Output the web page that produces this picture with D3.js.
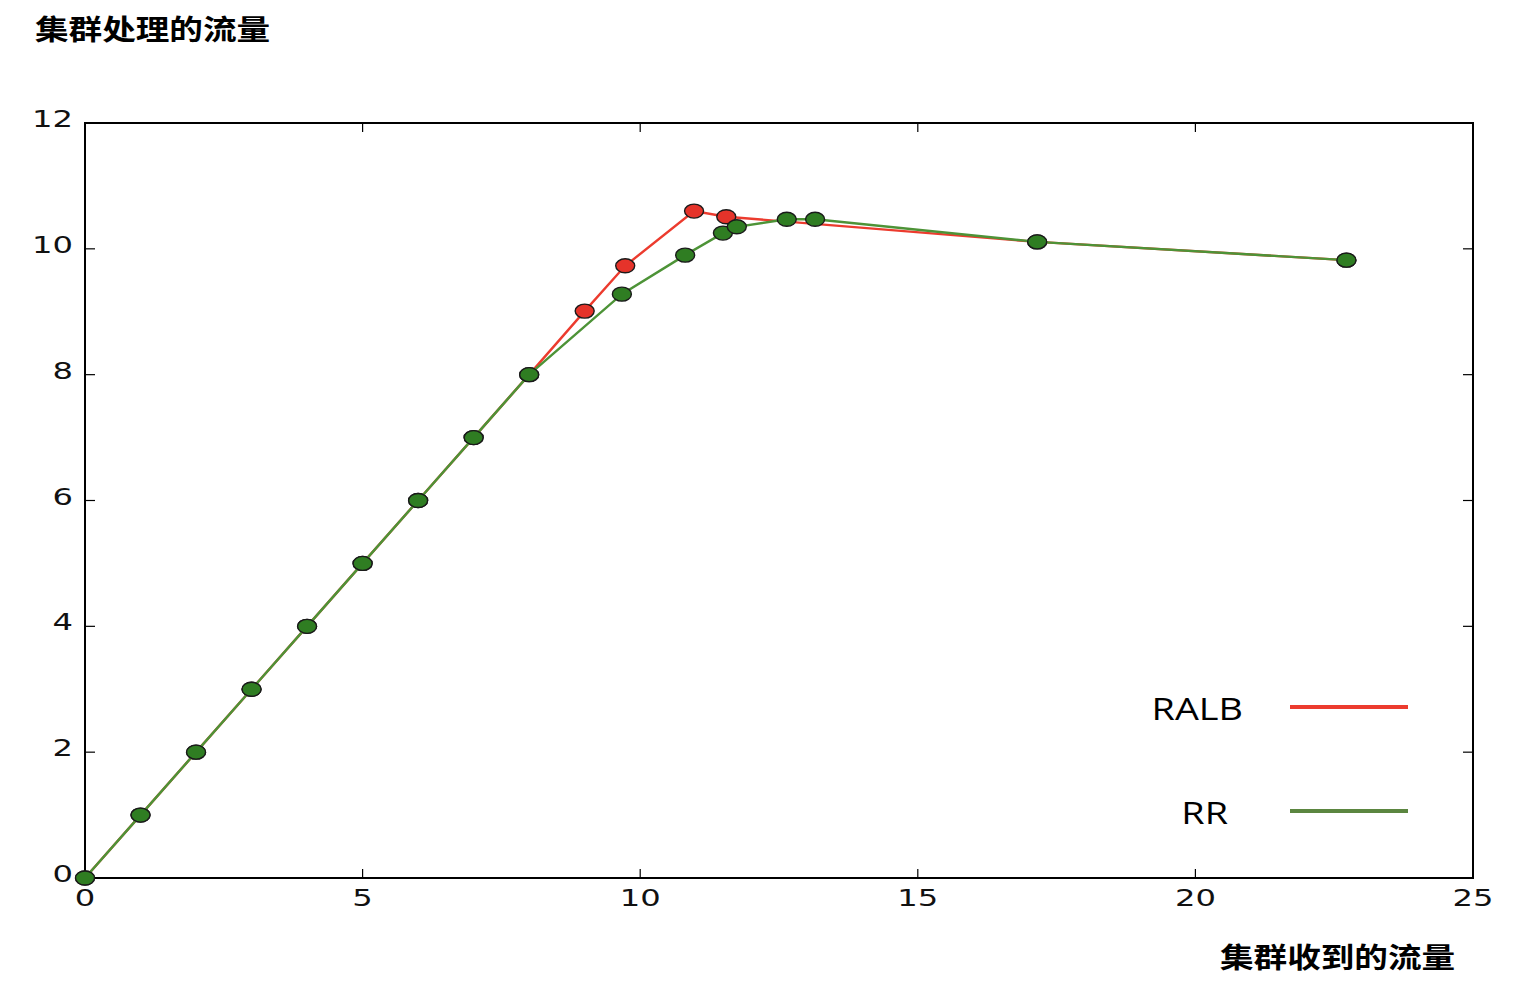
<!DOCTYPE html>
<html><head><meta charset="utf-8">
<script src="https://cdn.jsdelivr.net/npm/d3@7"></script>
<style>body{margin:0;background:#fff}svg{display:block}</style>
</head><body>
<svg id="c" width="1536" height="1006"></svg>
<script>
const ralbX = [0,1,2,3,4,5,6,7,8,9.0,9.73,10.97,11.55,17.15,22.72];
const ralbY = [0,1,2,3,4,5,6,7,8,9.01,9.73,10.60,10.51,10.11,9.82];
const rrX = [0,1,2,3,4,5,6,7,8,9.67,10.81,11.49,11.74,12.64,13.15,17.15,22.72];
const rrY = [0,1,2,3,4,5,6,7,8,9.28,9.90,10.25,10.35,10.47,10.47,10.11,9.82];
const xTicks = [0,5,10,15,20,25];
const yTicks = [0,2,4,6,8,10,12];
const seriesNames = ["RALB","RR"];
const yTitle = "集群处理的流量";
const xTitle = "集群收到的流量";

const svg = d3.select("#c");
const L=85,R=1473,T=123,B=878;
const x = d3.scaleLinear().domain([0,25]).range([L,R]);
const y = d3.scaleLinear().domain([0,12]).range([B,T]);
const SX=1.4;
const numFont="'DejaVu Sans', sans-serif";

const g = svg.append("g");
xTicks.forEach(t=>{
  g.append("line").attr("x1",x(t)).attr("x2",x(t)).attr("y1",B).attr("y2",B-9).attr("stroke","#000").attr("stroke-width",1.2);
  g.append("line").attr("x1",x(t)).attr("x2",x(t)).attr("y1",T).attr("y2",T+9).attr("stroke","#000").attr("stroke-width",1.2);
  g.append("text").attr("transform",`translate(${x(t)},${B+28}) scale(${SX},1)`)
   .attr("text-anchor","middle").attr("font-family",numFont).attr("font-size",23).attr("fill","#111").text(t);
});
yTicks.forEach(t=>{
  g.append("line").attr("y1",y(t)).attr("y2",y(t)).attr("x1",L).attr("x2",L+10).attr("stroke","#000").attr("stroke-width",1.2);
  g.append("line").attr("y1",y(t)).attr("y2",y(t)).attr("x1",R).attr("x2",R-10).attr("stroke","#000").attr("stroke-width",1.2);
  g.append("text").attr("transform",`translate(73,${y(t)+4}) scale(${SX},1)`)
   .attr("text-anchor","end").attr("font-family",numFont).attr("font-size",23).attr("fill","#111").text(t);
});
g.append("rect").attr("x",L).attr("y",T).attr("width",R-L).attr("height",B-T)
 .attr("fill","none").attr("stroke","#000").attr("stroke-width",2);

const line = d3.line().x(d=>x(d[0])).y(d=>y(d[1]));
const ralb = ralbX.map((v,i)=>[v,ralbY[i]]);
const rr = rrX.map((v,i)=>[v,rrY[i]]);

function draw(data, lc, mc){
  svg.append("path").datum(data).attr("d",line).attr("fill","none").attr("stroke",lc).attr("stroke-width",2.4);
  svg.append("g").selectAll("ellipse").data(data).join("ellipse")
    .attr("cx",d=>x(d[0])).attr("cy",d=>y(d[1])).attr("rx",9.5).attr("ry",7)
    .attr("fill",mc).attr("stroke","#1a1a1a").attr("stroke-width",1.4);
}
draw(ralb,"#ec3b2e","#e5332a");
draw(rr,"#4d9337","#2f7d22");

const legFont="'Open Sans', 'Noto Sans', sans-serif";
[["#ec3b2e",707,0,1243],["#5b8640",811,1,1228]].forEach(([c,yy,i,xe])=>{
  svg.append("line").attr("x1",1290).attr("x2",1408).attr("y1",yy).attr("y2",yy).attr("stroke",c).attr("stroke-width",4);
  svg.append("text").attr("transform",`translate(${xe},${yy+13}) scale(1.22,1)`).attr("text-anchor","end")
    .attr("font-family",legFont).attr("font-size",31).attr("font-weight",500).attr("fill","#000").text(seriesNames[i]);
});

const cjk="'Noto Sans CJK SC', sans-serif";
svg.append("text").attr("transform","translate(35,40) scale(1.2,1)").attr("font-family",cjk)
  .attr("font-weight","bold").attr("font-size",28).attr("fill","#000").text(yTitle);
svg.append("text").attr("transform","translate(1220,968) scale(1.2,1)").attr("font-family",cjk)
  .attr("font-weight","bold").attr("font-size",28).attr("fill","#000").text(xTitle);
</script>
</body></html>
